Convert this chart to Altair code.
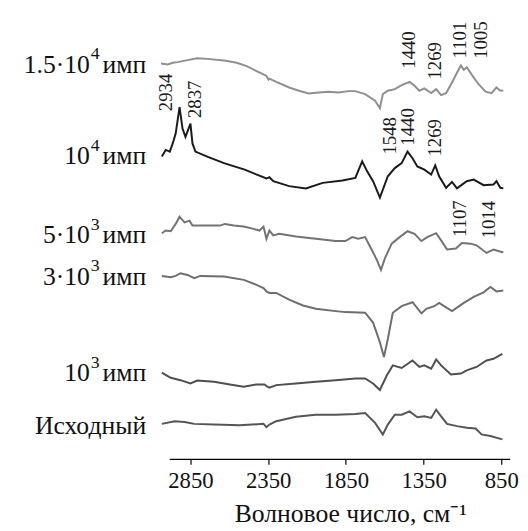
import altair as alt
import pandas as pd

# ---- spectra (wavenumber, cm^-1 ; relative intensity, offset per curve) ----
wn_a = [3040, 2996, 2964, 2933, 2869, 2806, 2742, 2634, 2552, 2488, 2425, 2380, 2361, 2348, 2342, 2298, 2215, 2152, 2088, 2024,
        1961, 1897, 1834, 1789, 1726, 1662, 1631, 1612, 1580, 1535, 1491, 1440, 1408, 1377, 1345, 1301, 1269, 1237, 1205, 1167,
        1135, 1110, 1091, 1072, 1027, 996, 951, 913, 881, 856, 837]
val_a = [401.3, 400.3, 402, 402.7, 404.7, 406.7, 406, 404.3, 402, 398.7, 393.7, 390.3, 388.7, 385, 386, 382.7, 377, 373.7, 371, 372,
         372.7, 372, 373.3, 373.3, 370.3, 363.7, 356, 370.3, 373.7, 375.3, 379.3, 382.7, 378.7, 373.7, 376, 371.3, 375.3, 369.3, 371.3, 382,
         392, 399.3, 395, 397.5, 387, 380.3, 372.7, 371.3, 377, 373.7, 374]

wn_b = [3034, 3009, 2983, 2964, 2945, 2920, 2901, 2882, 2850, 2837, 2818, 2742, 2634, 2501, 2361, 2342, 2317, 2215, 2107, 1999,
        1872, 1789, 1745, 1713, 1675, 1631, 1580, 1535, 1491, 1453, 1421, 1390, 1345, 1301, 1275, 1250, 1205, 1167, 1135, 1072,
        1027, 964, 900, 881, 856, 837]
val_b = [307, 313.7, 312, 320.3, 330.3, 357, 335.3, 327, 340.3, 320.3, 312, 307, 300.3, 293.7, 284.7, 286, 282, 277, 274.7, 280.3,
         282.7, 285.3, 302, 292, 282, 265.3, 287, 295.3, 300.3, 312, 305.3, 297, 293.7, 288.7, 298, 287, 275.3, 281.3, 274.7, 282,
         283.7, 278, 278.7, 282, 275.3, 274.7]

wn_c = [3034, 3009, 2977, 2945, 2920, 2888, 2856, 2837, 2742, 2660, 2628, 2571, 2507, 2444, 2406, 2380, 2361, 2342, 2317, 2279,
        2171, 2043, 1916, 1853, 1809, 1771, 1726, 1682, 1650, 1624, 1599, 1555, 1504, 1453, 1408, 1364, 1326, 1269, 1237, 1199,
        1142, 1104, 1047, 1009, 945, 900, 837]
val_c = [229.3, 232, 231.3, 238.7, 246, 240.3, 242, 237, 237, 237, 238.7, 237, 236, 233.7, 232, 236, 223.7, 232, 227, 228.7,
         226, 223.7, 221.3, 221.3, 225.3, 223.7, 225.3, 212, 202, 192, 203.7, 218.7, 225.3, 231.3, 228.7, 221.3, 225.3, 229.3, 222, 212.7,
         213.7, 219.3, 218.7, 217, 209.3, 212.7, 209.7]

wn_d = [3034, 2977, 2945, 2914, 2869, 2825, 2787, 2634, 2507, 2425, 2380, 2361, 2342, 2298, 2215, 2126, 2043, 1916, 1853, 1726,
        1675, 1631, 1605, 1580, 1548, 1491, 1421, 1364, 1332, 1281, 1250, 1218, 1167, 1091, 1027, 964, 920, 881, 837]
val_d = [186, 184.7, 186, 188.7, 187, 183.7, 186, 185.3, 182, 177, 173.7, 170.3, 168.7, 168.7, 162, 156, 152.7, 150.3, 149.3, 148.7,
         138.7, 118.7, 103.7, 122, 148.7, 155.3, 159.3, 148, 152.7, 155.3, 158.7, 155.3, 150.3, 158.7, 164.7, 169.3, 174.7, 170.3, 171.3]

wn_e = [3034, 2977, 2914, 2850, 2806, 2698, 2596, 2507, 2425, 2374, 2355, 2342, 2298, 2171, 2043, 1916, 1789, 1726, 1675, 1631,
        1586, 1548, 1491, 1421, 1377, 1345, 1301, 1269, 1237, 1174, 1110, 1072, 1009, 945, 900, 843]
val_e = [88, 82.7, 80.3, 77, 80, 78.7, 76, 73.7, 76, 76, 73.7, 72.7, 75.3, 77, 78.7, 80.3, 82, 82, 77, 70.3,
         85.3, 95.3, 92.7, 100.3, 93.7, 95.3, 92, 101.3, 95.3, 86, 87, 90.3, 93.7, 100.3, 102, 107]

wn_f = [3034, 2952, 2888, 2825, 2698, 2533, 2380, 2361, 2342, 2298, 2171, 2043, 1916, 1789, 1726, 1662, 1612, 1580, 1535, 1491,
        1440, 1390, 1345, 1301, 1269, 1237, 1199, 1135, 1072, 1015, 977, 920, 843]
val_f = [36, 38.7, 38, 36, 35.3, 34.7, 36, 32.7, 35.3, 38.7, 43.3, 45.3, 45.3, 46, 47, 37, 25.3, 35.3, 45.3, 45.3,
         48.7, 42.7, 43.7, 42, 50.3, 43.7, 36, 33.7, 32, 31.3, 25.3, 23.7, 20.3]

series_names = ["1.5·10⁴имп", "10⁴имп", "5·10³имп", "3·10³имп", "10³имп", "Исходный"]
series_colors = ["#8f8f8f", "#1a1a1a", "#737373", "#6e6e6e", "#4f4f4f", "#555555"]
# left-hand labels split into base, superscript and tail
label_base = ["1.5·10", "10", "5·10", "3·10", "10", ""]
label_sup = ["4", "4", "3", "3", "3", ""]
label_tail = ["имп", "имп", "имп", "имп", "имп", "Исходный"]
label_y = [400, 307, 227, 185, 87, 34]

# ---- peak annotations ----
ann_text = ["2934", "2837", "1440", "1269", "1101", "1005", "1548", "1440", "1269", "1107", "1014"]
ann_wn = [3009, 2818, 1440, 1275, 1116, 977, 1567, 1447, 1275, 1116, 926]
ann_y = [372, 365, 415, 404, 425, 425, 328, 337, 326, 244, 243]

tick_values = [2850, 2350, 1850, 1350, 850]

rows = []
for name, wns, vals in zip(series_names,
                           [wn_a, wn_b, wn_c, wn_d, wn_e, wn_f],
                           [val_a, val_b, val_c, val_d, val_e, val_f]):
    for i, (w, v) in enumerate(zip(wns, vals)):
        rows.append({"series": name, "wn": w, "val": v, "ord": i})
spec = pd.DataFrame(rows)
labels = pd.DataFrame({"base": label_base, "sup": label_sup, "tail": label_tail, "val": label_y})
ann = pd.DataFrame({"text": ann_text, "wn": ann_wn, "val": ann_y})

SERIF = "Liberation Serif"
xs = alt.Scale(domain=[793, 3040], reverse=True, nice=False, zero=False)
ys = alt.Scale(domain=[0, 442], nice=False, zero=False)

lines = alt.Chart(spec).mark_line(strokeWidth=2).encode(
    x=alt.X("wn:Q", scale=xs,
            axis=alt.Axis(values=tick_values, format="d", domain=False, grid=False,
                          tickColor="black", tickSize=5, tickWidth=1.2,
                          labelFont=SERIF, labelFontSize=23, labelColor="#111", labelPadding=6,
                          title="Волновое число, см⁻¹", titleFont=SERIF, titleFontSize=26,
                          titleFontWeight="normal", titleColor="#111",
                          titleX=192, titleY=63, titleAlign="center", titleBaseline="alphabetic")),
    y=alt.Y("val:Q", scale=ys, axis=None),
    color=alt.Color("series:N", scale=alt.Scale(domain=series_names, range=series_colors), legend=None),
    detail="series:N",
    order="ord:Q",
)

axis_line = alt.Chart(pd.DataFrame({"a": [0]})).mark_rule(color="black", strokeWidth=1.3).encode(
    x=alt.datum(2983, scale=xs), x2=alt.datum(793), y=alt.value(442)
)

lab_tail = alt.Chart(labels).mark_text(
    align="right", baseline="middle", font=SERIF, fontSize=26, color="#111"
).encode(x=alt.value(-15), y=alt.Y("val:Q", scale=ys), text="tail:N")

lab_sup = alt.Chart(labels).mark_text(
    align="right", baseline="middle", font=SERIF, fontSize=18, color="#111", dx=-47, dy=-11
).encode(x=alt.value(-15), y=alt.Y("val:Q", scale=ys), text="sup:N")

lab_base = alt.Chart(labels).mark_text(
    align="right", baseline="middle", font=SERIF, fontSize=26, color="#111", dx=-57
).encode(x=alt.value(-15), y=alt.Y("val:Q", scale=ys), text="base:N")

ann_marks = alt.Chart(ann).mark_text(
    align="center", baseline="middle", angle=270, font=SERIF, fontSize=19, color="#1a1a1a"
).encode(
    x=alt.X("wn:Q", scale=xs),
    y=alt.Y("val:Q", scale=ys),
    text="text:N",
)

chart = alt.layer(lines, axis_line, lab_tail, lab_sup, lab_base, ann_marks).properties(
    width=354, height=442,
    autosize=alt.AutoSizeParams(type="none"),
    padding={"left": 155, "top": 12, "right": 10, "bottom": 68},
).configure_view(stroke=None)

chart.save("out.html", embed_options={"renderer": "svg", "actions": False})
